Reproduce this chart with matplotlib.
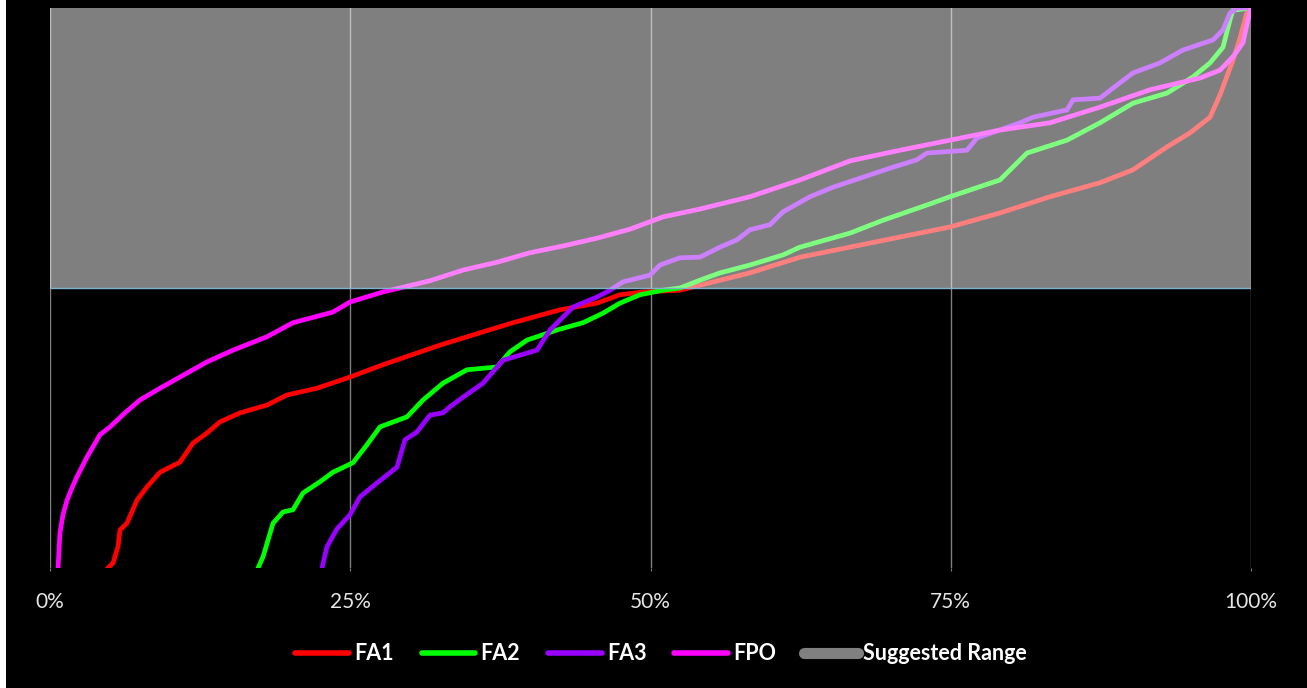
import matplotlib
matplotlib.use('Agg')
import matplotlib.pyplot as plt
from matplotlib.lines import Line2D
from matplotlib.patches import Rectangle

# share of cases (%) vs normalised score
fa1_x = [4.83, 5.25, 5.66, 5.83, 6.41, 7.24, 8.08, 9.16, 10.82, 11.91, 13.07, 14.15, 15.82, 18.07,
         19.73, 22.23, 24.98, 27.73, 32.47, 35.80, 38.55, 42.46, 45.55, 47.46, 49.38, 52.46, 54.12,
         58.28, 62.45, 66.61, 70.77, 74.94, 79.10, 83.26, 87.43, 90.17, 93.01, 94.92, 96.59, 97.42,
         98.50, 99.08, 99.67, 100.0]
fa1_y = [0.000, 0.009, 0.038, 0.068, 0.080, 0.121, 0.145, 0.171, 0.189, 0.223, 0.241, 0.261, 0.277, 0.291,
         0.309, 0.321, 0.341, 0.363, 0.398, 0.420, 0.438, 0.461, 0.473, 0.488, 0.493, 0.496, 0.505,
         0.527, 0.555, 0.573, 0.591, 0.609, 0.634, 0.663, 0.688, 0.711, 0.752, 0.777, 0.805, 0.845,
         0.907, 0.946, 0.993, 1.000]

fa2_x = [17.32, 17.74, 18.57, 19.40, 20.23, 21.07, 22.48, 23.56, 25.23, 26.39, 27.48, 29.73, 31.06,
         32.72, 34.72, 37.22, 38.30, 39.72, 42.21, 44.38, 46.04, 47.46, 49.13, 51.04, 52.46, 54.12,
         55.79, 58.28, 61.03, 62.45, 66.61, 69.36, 73.52, 74.94, 79.10, 81.35, 84.68, 87.43, 90.17,
         93.01, 95.17, 96.59, 97.67, 98.25, 98.50, 100.0]
fa2_y = [0.000, 0.020, 0.080, 0.100, 0.104, 0.134, 0.154, 0.171, 0.188, 0.220, 0.252, 0.270, 0.300,
         0.330, 0.354, 0.359, 0.386, 0.407, 0.425, 0.438, 0.455, 0.473, 0.488, 0.496, 0.500, 0.514,
         0.527, 0.541, 0.559, 0.573, 0.598, 0.621, 0.652, 0.663, 0.693, 0.741, 0.764, 0.795, 0.830,
         0.848, 0.877, 0.902, 0.930, 0.979, 0.996, 1.000]

fa3_x = [22.65, 23.06, 23.90, 24.98, 25.81, 27.23, 28.89, 29.56, 30.56, 31.64, 32.72, 33.31, 34.39,
         36.05, 37.72, 40.55, 41.63, 43.55, 45.55, 46.63, 47.71, 49.96, 50.79, 52.46, 54.12, 55.79,
         57.20, 58.28, 59.95, 61.03, 63.28, 65.20, 67.44, 69.94, 72.19, 73.02, 74.35, 76.35, 77.19,
         80.77, 81.85, 84.68, 85.18, 87.43, 88.51, 90.17, 92.42, 94.34, 96.84, 97.67, 98.25, 98.83, 100.0]
fa3_y = [0.000, 0.038, 0.070, 0.095, 0.127, 0.152, 0.180, 0.229, 0.243, 0.273, 0.277, 0.288, 0.305,
         0.330, 0.371, 0.389, 0.425, 0.466, 0.484, 0.496, 0.511, 0.523, 0.541, 0.554, 0.555, 0.573,
         0.586, 0.604, 0.613, 0.636, 0.663, 0.680, 0.696, 0.714, 0.729, 0.741, 0.743, 0.746, 0.768,
         0.795, 0.805, 0.818, 0.836, 0.839, 0.857, 0.884, 0.902, 0.925, 0.943, 0.961, 0.991, 1.000, 1.000]

fpo_x = [0.67, 0.83, 1.08, 1.42, 1.83, 2.25, 3.08, 4.16, 5.00, 6.24, 7.49, 9.16, 10.82, 13.07, 15.24,
         18.07, 20.23, 23.56, 24.98, 27.73, 29.14, 31.64, 34.39, 37.22, 39.97, 42.71, 45.55, 48.29,
         51.04, 54.12, 58.28, 62.45, 66.61, 70.77, 74.94, 79.10, 83.26, 87.43, 91.59, 95.75, 97.42,
         98.50, 99.33, 99.75, 100.0]
fpo_y = [0.000, 0.063, 0.095, 0.121, 0.143, 0.163, 0.198, 0.238, 0.252, 0.277, 0.300, 0.321, 0.341,
         0.368, 0.389, 0.413, 0.438, 0.457, 0.475, 0.493, 0.500, 0.513, 0.532, 0.546, 0.563, 0.575,
         0.589, 0.605, 0.627, 0.641, 0.663, 0.693, 0.727, 0.746, 0.764, 0.782, 0.795, 0.823, 0.854,
         0.875, 0.889, 0.913, 0.938, 0.979, 1.000]

range_low, range_high = 0.5, 1.0
x_ticks = [0, 25, 50, 75, 100]
x_labels = ['0%', '25%', '50%', '75%', '100%']

series = [('FA1', fa1_x, fa1_y, '#ff0000'),
          ('FA2', fa2_x, fa2_y, '#00ff00'),
          ('FA3', fa3_x, fa3_y, '#9900ff'),
          ('FPO', fpo_x, fpo_y, '#ff00ff')]

FONT = ['Lato', 'DejaVu Sans']

fig = plt.figure(figsize=(13.07, 6.88), dpi=100, facecolor='black')
ax = fig.add_axes([50 / 1307, 120 / 688, 1201 / 1307, 560 / 688])
ax.set_facecolor('black')
fig.patches.append(Rectangle((0, 0), 6 / 1307, 1, transform=fig.transFigure,
                             facecolor='white', edgecolor='none', zorder=-1))

handles = []
for name, xs, ys, col in series:
    ax.plot(xs, ys, color=col, lw=3.4, solid_joinstyle='round', zorder=2, label=name)
    handles.append(Line2D([], [], color=col, lw=4, solid_capstyle='round'))

# suggested range: translucent white band over the lines
ax.axhspan(range_low, range_high, facecolor='white', alpha=0.5, edgecolor='none', zorder=3)
ax.axhline(range_low, color='#80b4cc', lw=1, zorder=4)
handles.append(Line2D([], [], color='#808080', lw=8, solid_capstyle='round'))

ax.set_xlim(0, 100)
ax.set_ylim(0, 1)
ax.set_xticks(x_ticks)
ax.set_xticklabels(x_labels, family=FONT, fontsize=15, color='#e6e6e6')
ax.set_yticks([])
ax.tick_params(axis='x', length=2, color='#7f7f7f', pad=15)
ax.grid(axis='x', color='#7f7f7f', lw=1)
ax.set_axisbelow(True)
for s in ax.spines.values():
    s.set_visible(False)

leg = fig.legend(handles, ['FA1', 'FA2', 'FA3', 'FPO', 'Suggested Range'], loc='center',
                 bbox_to_anchor=(661 / 1307, 1 - 654 / 688), ncol=5, frameon=False,
                 prop={'family': FONT, 'size': 15.5, 'weight': 'bold'},
                 handlelength=2.5, handletextpad=0.23, columnspacing=1.3)
for t in leg.get_texts():
    t.set_color('white')

fig.savefig('out.png', dpi=100, facecolor='black')
